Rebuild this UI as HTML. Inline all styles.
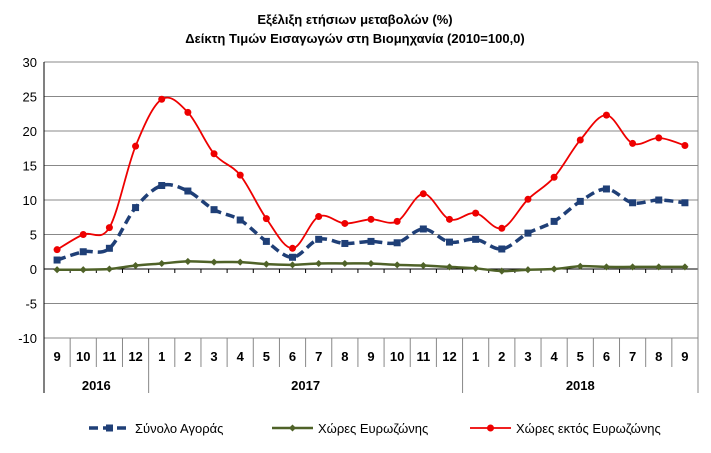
<!DOCTYPE html>
<html><head><meta charset="utf-8"><style>
body{margin:0;background:#fff}
svg{display:block;font-family:"Liberation Sans",sans-serif}
</style></head><body>
<svg id="s" width="711" height="453" xmlns="http://www.w3.org/2000/svg">
<text x="355" y="24" text-anchor="middle" font-size="13" font-weight="bold">Εξέλιξη ετήσιων μεταβολών (%)</text>
<text x="355" y="43" text-anchor="middle" font-size="13" font-weight="bold">Δείκτη Τιμών Εισαγωγών στη Βιομηχανία (2010=100,0)</text>
<g id="g"></g>
</svg>
<script>
const L=44,R=698,T=62,B=338,n=25,w=(R-L)/n;
const y=v=>T+(30-v)*(B-T)/40, x=i=>L+w*(i+0.5);
let h='';
for(let v=-10;v<=30;v+=5){h+=`<line x1="${L}" x2="${R}" y1="${y(v)}" y2="${y(v)}" stroke="${v==0?'#000':'#888'}" stroke-width="1"/>`;
h+=`<text x="${L-7}" y="${y(v)+5}" text-anchor="end" font-size="13">${v}</text>`;}
h+=`<line x1="${R}" x2="${R}" y1="${T}" y2="393" stroke="#888"/>`;
h+=`<line x1="${L}" x2="${L}" y1="${T}" y2="393" stroke="#000"/>`;
for(let i=1;i<n;i++){let X=L+w*i;let yr=(i==4||i==16);h+=`<line x1="${X}" x2="${X}" y1="${B}" y2="${yr?393:367}" stroke="#888"/>`;
h+=`<line x1="${X}" x2="${X}" y1="${y(0)}" y2="${y(0)+4}" stroke="#000"/>`;}
const m=[9,10,11,12,1,2,3,4,5,6,7,8,9,10,11,12,1,2,3,4,5,6,7,8,9];
m.forEach((v,i)=>h+=`<text x="${x(i)}" y="361" text-anchor="middle" font-size="13" font-weight="bold">${v}</text>`);
h+=`<text x="${L+2*w}" y="390" text-anchor="middle" font-size="13" font-weight="bold">2016</text>`;
h+=`<text x="${L+10*w}" y="390" text-anchor="middle" font-size="13" font-weight="bold">2017</text>`;
h+=`<text x="${L+20.5*w}" y="390" text-anchor="middle" font-size="13" font-weight="bold">2018</text>`;
const red=[2.8,5.0,6.0,17.8,24.6,22.7,16.7,13.6,7.3,3.0,7.6,6.6,7.2,6.9,10.9,7.2,8.1,5.9,10.1,13.3,18.7,22.3,18.2,19.0,17.9];
const blue=[1.3,2.5,3.0,8.9,12.1,11.3,8.6,7.1,4.0,1.7,4.3,3.7,4.0,3.8,5.8,3.9,4.3,2.9,5.2,6.9,9.8,11.6,9.6,10.0,9.6];
const grn=[-0.1,-0.1,0,0.5,0.8,1.1,1.0,1.0,0.7,0.6,0.8,0.8,0.8,0.6,0.5,0.3,0.1,-0.3,-0.1,0,0.4,0.3,0.3,0.3,0.3];
function path(d){const p=d.map((v,i)=>[x(i),y(v)]);let s=`M${p[0]}`;
for(let i=0;i<p.length-1;i++){const p0=p[Math.max(0,i-1)],p1=p[i],p2=p[i+1],p3=p[Math.min(p.length-1,i+2)],k=6;
s+=` C${p1[0]+(p2[0]-p0[0])/k},${p1[1]+(p2[1]-p0[1])/k} ${p2[0]-(p3[0]-p1[0])/k},${p2[1]-(p3[1]-p1[1])/k} ${p2[0]},${p2[1]}`;}return s;}
h+=`<path d="${path(grn)}" fill="none" stroke="#4f6228" stroke-width="2.5"/>`;
grn.forEach((v,i)=>h+=`<rect x="${x(i)-2.5}" y="${y(v)-2.5}" width="5" height="5" fill="#4f6228" transform="rotate(45 ${x(i)} ${y(v)})"/>`);
h+=`<path d="${path(blue)}" fill="none" stroke="#1f3f77" stroke-width="3.5" stroke-dasharray="9,5"/>`;
blue.forEach((v,i)=>h+=`<rect x="${x(i)-3.5}" y="${y(v)-3.5}" width="7" height="7" fill="#1f3f77"/>`);
h+=`<path d="${path(red)}" fill="none" stroke="#e00" stroke-width="1.8"/>`;
red.forEach((v,i)=>h+=`<circle cx="${x(i)}" cy="${y(v)}" r="3.5" fill="#e00"/>`);
h+=`<line x1="89" x2="131" y1="428" y2="428" stroke="#1f3f77" stroke-width="3.5" stroke-dasharray="9,5"/><rect x="106" y="424.5" width="7" height="7" fill="#1f3f77"/><text x="135" y="433" font-size="13">Σύνολο Αγοράς</text>`;
h+=`<line x1="272" x2="313" y1="428" y2="428" stroke="#4f6228" stroke-width="2.5"/><rect x="290" y="425.5" width="5" height="5" fill="#4f6228" transform="rotate(45 292.5 428)"/><text x="318" y="433" font-size="13">Χώρες Ευρωζώνης</text>`;
h+=`<line x1="470" x2="511" y1="428" y2="428" stroke="#e00" stroke-width="1.8"/><circle cx="490.5" cy="428" r="3.5" fill="#e00"/><text x="516" y="433" font-size="13">Χώρες εκτός Ευρωζώνης</text>`;
document.getElementById('g').innerHTML=h;
</script>
</body></html>
